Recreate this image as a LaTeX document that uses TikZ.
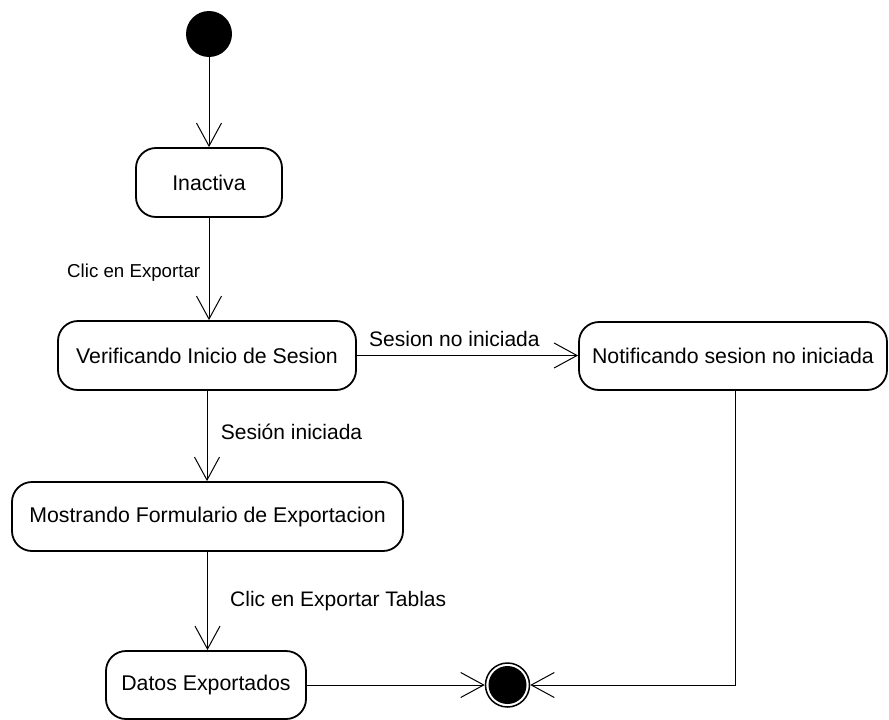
\documentclass[tikz,border=0pt]{standalone}
\usepackage{fontspec}
\setmainfont{Liberation Sans}
\usetikzlibrary{arrows.meta}

\tikzset{
  state/.style={draw, line width=1.8pt, rounded corners=20pt, inner sep=0pt,
    minimum height=69pt, font=\fontsize{21.3}{25}\selectfont},
  flow/.style={line width=1pt, -{Straight Barb[length=23pt,width=25pt]}},
  lbl/.style={inner sep=0pt, anchor=base west, font=\fontsize{21}{25}\selectfont},
  smalllbl/.style={inner sep=0pt, anchor=base west, font=\fontsize{18.7}{22}\selectfont},
}

\begin{document}
\begin{tikzpicture}[x=1pt, y=-1pt]
  \useasboundingbox (0,0) rectangle (889,720);

  % initial and final pseudostates
  \node (init) [circle, fill=black, inner sep=0pt, minimum size=46pt] at (209,34) {};
  \node (final) [circle, draw, line width=1.5pt, inner sep=0pt, minimum size=44pt,
    path picture={\fill (path picture bounding box.center) circle (19pt);}]
    at (507.5,685) {};

  % states
  \node (inact) [state, minimum width=146pt] at (209,182.5) {Inactiva};
  \node (verif) [state, minimum width=298pt] at (207,355.5) {Verificando Inicio de Sesion};
  \node (notif) [state, minimum width=308pt, minimum height=68pt] at (733,356) {Notificando sesion no iniciada};
  \node (most)  [state, minimum width=391pt] at (207.5,516.5) {Mostrando Formulario de Exportacion};
  \node (datos) [state, minimum width=200pt, minimum height=68pt] at (206,685) {Datos Exportados};

  % bend point of the return path
  \coordinate (turn) at (735.7,685);

  % transitions
  \draw[flow] (init) -- (inact);
  \draw[flow] (inact.south) -- (inact.south |- verif.north);
  \draw[flow] (verif.south) -- (verif.south |- most.north);
  \draw[flow] (most.south) -- (most.south |- datos.north);
  \draw[flow] (verif.east) -- (notif.west |- verif.east);
  \draw[flow] (datos.east) -- (final.west);
  \draw[flow] (notif.south -| turn) -- (turn) -- (final.east);

  % transition labels
  \node (l1) [smalllbl] at (67,277) {Clic en Exportar};
  \node (l2) [lbl] at (369,346.7) {Sesion no iniciada};
  \node (l3) [lbl] at (220.7,439) {Sesión iniciada};
  \node (l4) [lbl] at (230,606.7) {Clic en Exportar Tablas};
\end{tikzpicture}
\end{document}
